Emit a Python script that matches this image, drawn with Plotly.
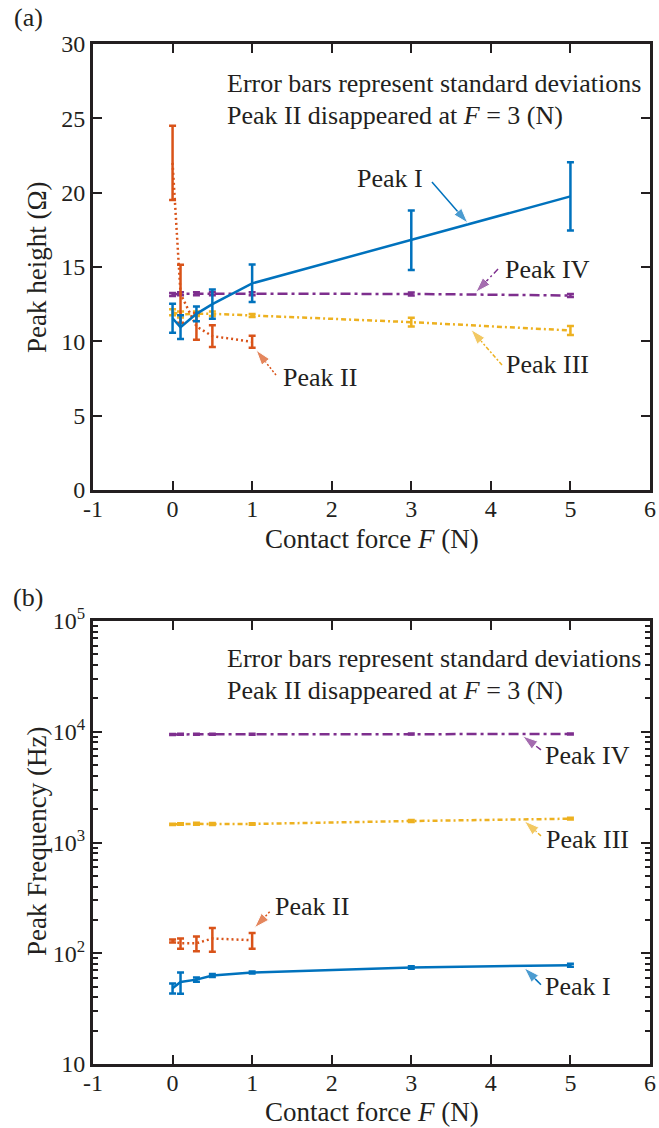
import math
import plotly.graph_objects as go

# ---------------- data ----------------
force = [0, 0.1, 0.3, 0.5, 1, 3, 5]
force_II = [0, 0.1, 0.3, 0.5, 1]

# (a) peak height (Ohm)
h_I = [11.55, 10.95, 11.85, 12.5, 13.9, 16.8, 19.75]
h_I_sd = [0.97, 0.8, 0.5, 0.98, 1.26, 2.0, 2.3]
h_II = [22.0, 13.2, 11.0, 10.35, 9.97]
h_II_sd = [2.5, 1.95, 0.9, 0.73, 0.4]
h_III = [11.96, 11.8, 11.85, 11.85, 11.74, 11.29, 10.73]
h_III_sd = [0.2, 0.2, 0.15, 0.15, 0.1, 0.3, 0.3]
h_IV = [13.15, 13.2, 13.2, 13.2, 13.2, 13.19, 13.08]
h_IV_sd = [0.1, 0.1, 0.1, 0.1, 0.1, 0.1, 0.1]

# (b) peak frequency (Hz)
f_I = [48.3, 55, 57.8, 63, 67, 74.3, 78]
f_I_sd = [5, 12, 2.5, 2, 1.5, 2, 2.5]
f_II = [129, 123, 123, 136, 131]
f_II_sd = [4, 13, 19, 33, 21]
f_III = [1460, 1470, 1475, 1470, 1470, 1563, 1640]
f_III_sd = [20, 20, 30, 30, 20, 30, 30]
f_IV = [9450, 9480, 9500, 9500, 9500, 9520, 9530]
f_IV_sd = [100, 100, 100, 100, 100, 100, 100]

x_ticks = [-1, 0, 1, 2, 3, 4, 5, 6]
x_ticktext = ["-1", "0", "1", "2", "3", "4", "5", "6"]
h_ticks = [0, 5, 10, 15, 20, 25, 30]
f_ticks = [10, 100, 1000, 10000, 100000]
f_ticktext = ["10", "10<sup>2</sup>", "10<sup>3</sup>", "10<sup>4</sup>", "10<sup>5</sup>"]
f_minor = [m * 10 ** d for d in range(1, 5) for m in range(2, 10)]

# ---------------- styles ----------------
FONT = "Liberation Serif"
TXT = "#231f20"
C_I, C_II, C_III, C_IV = "#0072BD", "#D95319", "#EDB120", "#7E2F8E"
D_I, D_II, D_III, D_IV = "solid", "2px,3px", "5px,3px,2px,3px", "10px,4px,3px,4px"

fig = go.Figure()


def series(x, y, sd, color, dash, xa, ya):
    fig.add_trace(go.Scatter(
        x=x, y=y, mode="lines", xaxis=xa, yaxis=ya,
        line=dict(color=color, width=2.5, dash=dash),
        error_y=dict(type="data", array=sd, visible=True, color=color,
                     thickness=2.5, width=3.5),
        showlegend=False, hoverinfo="skip"))


series(force, h_IV, h_IV_sd, C_IV, D_IV, "x", "y")
series(force, h_III, h_III_sd, C_III, D_III, "x", "y")
series(force_II, h_II, h_II_sd, C_II, D_II, "x", "y")
series(force, h_I, h_I_sd, C_I, D_I, "x", "y")

series(force, f_IV, f_IV_sd, C_IV, D_IV, "x2", "y2")
series(force, f_III, f_III_sd, C_III, D_III, "x2", "y2")
series(force_II, f_II, f_II_sd, C_II, D_II, "x2", "y2")
series(force, f_I, f_I_sd, C_I, D_I, "x2", "y2")

# ---------------- labels with arrows ----------------
# (label text, label x, label y, tail x, tail y, head x, head y, color, dash)
labels_a = [
    ("Peak I", 2.73, 20.96, 3.26, 20.71, 3.71, 17.96, C_I, "solid"),
    ("Peak IV", 4.71, 14.86, 4.09, 14.86, 3.81, 13.3, C_IV, "6px,3px,2px,3px"),
    ("Peak III", 4.71, 8.41, 4.14, 8.41, 3.75, 10.8, C_III, "4px,2px,2px,2px"),
    ("Peak II", 1.85, 7.6, 1.30, 7.73, 1.05, 9.41, C_II, "2px,2px"),
]
labels_b = [
    ("Peak IV", 5.21, 10 ** 3.79, 4.63, 10 ** 3.836, 4.40, 10 ** 3.962, C_IV, "6px,3px,2px,3px"),
    ("Peak III", 5.21, 10 ** 3.023, 4.63, 10 ** 3.06, 4.42, 10 ** 3.195, C_III, "4px,2px,2px,2px"),
    ("Peak I", 5.10, 10 ** 1.697, 4.63, 10 ** 1.715, 4.42, 10 ** 1.868, C_I, "solid"),
    ("Peak II", 1.75, 10 ** 2.419, 1.22, 10 ** 2.374, 1.03, 10 ** 2.23, C_II, "2px,2px"),
]

annotations = []
for lab, axes, logy in ((labels_a, ("x", "y"), False), (labels_b, ("x2", "y2"), True)):
    for (t, lx, ly, tx, ty, hx, hy, col, dash) in lab:
        fig.add_trace(go.Scatter(
            x=[tx, hx], y=[ty, hy], mode="lines+markers", xaxis=axes[0], yaxis=axes[1],
            line=dict(color=col, width=1.5, dash=dash),
            marker=dict(symbol=["circle", "arrow"], size=[0, 16], color=col,
                        angleref="previous"),
            showlegend=False, hoverinfo="skip"))
        annotations.append(dict(
            text=t, x=lx, y=(math.log10(ly) if logy else ly), xref=axes[0], yref=axes[1],
            xanchor="center", yanchor="middle",
            showarrow=False, font=dict(family=FONT, size=26, color=TXT)))

# note text
for xref, yref, y1, y2 in (("x", "y", 27.37, 25.2), ("x2", "y2", 4.657, 4.377)):
    annotations.append(dict(text="Error bars represent standard deviations", x=0.66, y=y1,
                            xref=xref, yref=yref, xanchor="left", yanchor="middle",
                            showarrow=False, font=dict(family=FONT, size=26, color=TXT)))
    annotations.append(dict(text="Peak II disappeared at <i>F</i> = 3 (N)", x=0.66, y=y2,
                            xref=xref, yref=yref, xanchor="left", yanchor="middle",
                            showarrow=False, font=dict(family=FONT, size=26, color=TXT)))

# axis titles and panel labels (paper coords)
W, H = 659, 1128
ML, MR, MT, MB = 93, 9, 44, 64
PW, PH = W - ML - MR, H - MT - MB


def px(xp):
    return (xp - ML) / PW


def py(yp):
    return (H - MB - yp) / PH


for txt, xp, yp, ang, size in (
        ("(a)", 28, 17, 0, 26), ("(b)", 28, 597, 0, 26),
        ("Contact force <i>F</i> (N)", 372, 539, 0, 27),
        ("Contact force <i>F</i> (N)", 372, 1112, 0, 27),
        ("Peak height (Ω)", 37, 267, -90, 27),
        ("Peak Frequency (Hz)", 37, 842, -90, 27)):
    annotations.append(dict(text=txt, x=px(xp), y=py(yp), xref="paper", yref="paper",
                            xanchor="center", yanchor="middle",
                            textangle=ang, showarrow=False,
                            font=dict(family=FONT, size=size, color=TXT)))

axis_common = dict(showline=True, linewidth=3, linecolor="#231f20", mirror="ticks",
                   ticks="inside", ticklen=9, tickwidth=2, tickcolor="#231f20",
                   showgrid=False, zeroline=False, automargin=False,
                   tickfont=dict(family=FONT, size=24, color=TXT))

fig.update_layout(
    width=W, height=H, margin=dict(l=ML, r=MR, t=MT, b=MB, autoexpand=False),
    paper_bgcolor="white", plot_bgcolor="white",
    xaxis=dict(domain=[0, 1], anchor="y", range=[-1, 6], tickvals=x_ticks,
               ticktext=x_ticktext, ticklabelstandoff=-5, **axis_common),
    yaxis=dict(domain=[py(490), 1], anchor="x", range=[0, 30], tickvals=h_ticks, **axis_common),
    xaxis2=dict(domain=[0, 1], anchor="y2", range=[-1, 6], tickvals=x_ticks,
                ticktext=x_ticktext, ticklabelstandoff=-5, **axis_common),
    yaxis2=dict(domain=[0, py(621)], anchor="x2", type="log", range=[1, 5],
                tickvals=f_ticks, ticktext=f_ticktext,
                minor=dict(tickvals=f_minor, ticks="inside", ticklen=5, tickwidth=1.5,
                           tickcolor="#231f20", showgrid=False),
                **axis_common),
    annotations=annotations,
    hovermode=False,
)

fig.write_html("out.html")
